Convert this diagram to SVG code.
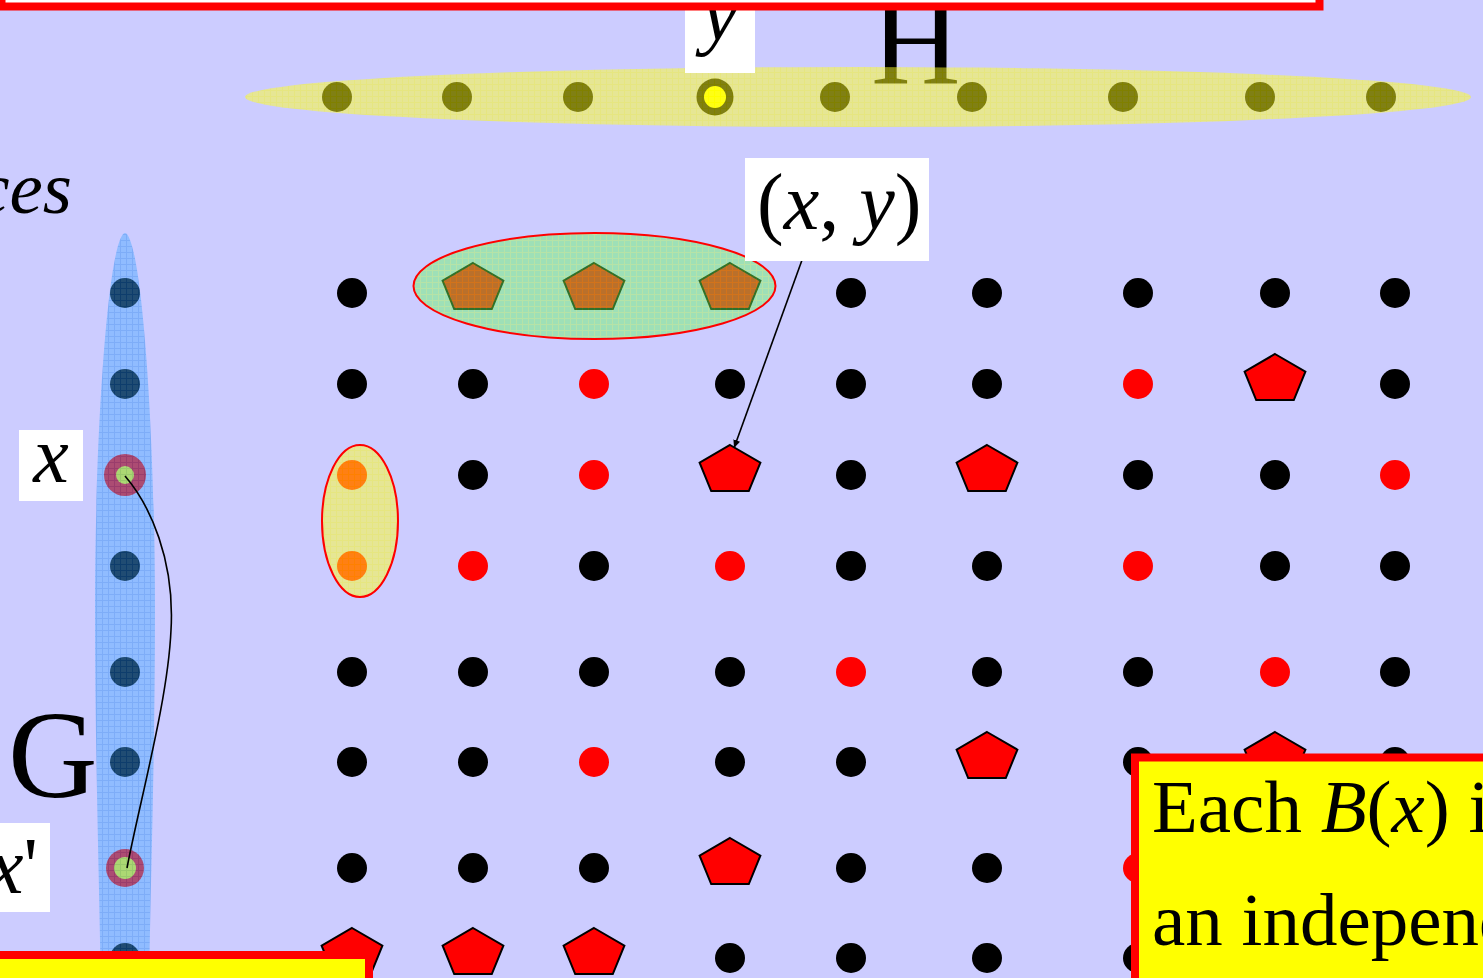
<svg xmlns="http://www.w3.org/2000/svg" xmlns:xlink="http://www.w3.org/1999/xlink" width="1483" height="978" viewBox="0 0 1483 978">
<style>
.serif{font-family:"Liberation Serif","Times New Roman",serif;fill:#000}
.it{font-style:italic}
.blk{fill:#000}
.red{fill:#FF0000}
.pent{fill:#FF0000;stroke:#000;stroke-width:2;stroke-linejoin:miter}
.lbl{fill:#FFFFFF}
.ov{opacity:0.45}
.ovy{opacity:0.5}
.rim{fill:none;stroke:#FF0000;stroke-width:2}
.conn{fill:none;stroke:#000;stroke-width:1.6}
.box{stroke:#FF0000;stroke-width:8}
</style>
<defs>
<pattern id="pY" width="6" height="6" patternUnits="userSpaceOnUse"><rect width="6" height="6" fill="#FFFF28"/><path d="M0,0.5H6M0.5,0V6" stroke="#FFFF00" stroke-width="1"/></pattern>
<pattern id="pB" width="6" height="6" patternUnits="userSpaceOnUse"><rect width="6" height="6" fill="#46A8FF"/><path d="M0,0.5H6M0.5,0V6" stroke="#1E88F0" stroke-width="1"/></pattern>
<pattern id="pG" width="6" height="6" patternUnits="userSpaceOnUse"><rect width="6" height="6" fill="#66F860"/><path d="M0,0.5H6M0.5,0V6" stroke="#9CFF3C" stroke-width="1"/></pattern>
<polygon id="pent" points="0,-25.5 30.4,-7.9 18.8,20.6 -18.8,20.6 -30.4,-7.9"/>
<marker id="arr" markerWidth="9" markerHeight="8" refX="8" refY="4" orient="auto" markerUnits="userSpaceOnUse"><path d="M0,0.5 L8,4 L0,7.5 z" fill="#000"/></marker>
</defs>
<rect id="background" x="0" y="0" width="1483" height="978" fill="#CCCCFF"/>

<g id="titles">
<text class="serif" x="871" y="83" font-size="124">H</text>
<text class="serif" x="8" y="797" font-size="124">G</text>
<text class="serif it" x="72" y="213" font-size="75" text-anchor="end">ces</text>
</g>

<g id="node-G-set">
<g id="G-vertices">
<circle class="blk" cx="125" cy="293" r="15"/>
<circle class="blk" cx="125" cy="384" r="15"/>
<circle class="red" cx="125" cy="475" r="21"/>
<circle fill="#FFFF00" cx="125" cy="475" r="9"/>
<circle class="blk" cx="125" cy="566" r="15"/>
<circle class="blk" cx="125" cy="672" r="15"/>
<circle class="blk" cx="125" cy="762" r="15"/>
<circle class="red" cx="125" cy="868" r="19"/>
<circle fill="#FFFF00" cx="125" cy="868" r="11"/>
<circle class="blk" cx="125" cy="958" r="15"/>
</g>
<path class="ov" fill="url(#pB)" d="M125,233 C141,236 155,420 155,610 C155,760 150,900 149,1000 L101,1000 C100,900 95,760 95,610 C95,420 109,236 125,233 Z"/>
</g>

<g id="node-H-set">
<g id="H-vertices">
<circle class="blk" cx="337" cy="97" r="15"/>
<circle class="blk" cx="457" cy="97" r="15"/>
<circle class="blk" cx="578" cy="97" r="15"/>
<circle class="blk" cx="715" cy="97" r="18.5"/>
<circle fill="#FFFF00" cx="715" cy="97" r="11"/>
<circle class="blk" cx="835" cy="97" r="15"/>
<circle class="blk" cx="972" cy="97" r="15"/>
<circle class="blk" cx="1123" cy="97" r="15"/>
<circle class="blk" cx="1260" cy="97" r="15"/>
<circle class="blk" cx="1381" cy="97" r="15"/>
</g>
<ellipse class="ovy" fill="url(#pY)" cx="858" cy="97" rx="613" ry="30"/>
</g>

<g id="label-y">
<rect class="lbl" x="685" y="0" width="70" height="73"/>
<text class="serif it" x="720" y="40" font-size="80" text-anchor="middle">y</text>
</g>

<g id="grid">
<circle class="blk" cx="352" cy="293" r="15"/>
<use href="#pent" class="pent" x="473" y="288.5"/>
<use href="#pent" class="pent" x="594" y="288.5"/>
<use href="#pent" class="pent" x="730" y="288.5"/>
<circle class="blk" cx="851" cy="293" r="15"/>
<circle class="blk" cx="987" cy="293" r="15"/>
<circle class="blk" cx="1138" cy="293" r="15"/>
<circle class="blk" cx="1275" cy="293" r="15"/>
<circle class="blk" cx="1395" cy="293" r="15"/>

<circle class="blk" cx="352" cy="384" r="15"/>
<circle class="blk" cx="473" cy="384" r="15"/>
<circle class="red" cx="594" cy="384" r="15"/>
<circle class="blk" cx="730" cy="384" r="15"/>
<circle class="blk" cx="851" cy="384" r="15"/>
<circle class="blk" cx="987" cy="384" r="15"/>
<circle class="red" cx="1138" cy="384" r="15"/>
<use href="#pent" class="pent" x="1275" y="379.5"/>
<circle class="blk" cx="1395" cy="384" r="15"/>

<circle class="red" cx="352" cy="475" r="15"/>
<circle class="blk" cx="473" cy="475" r="15"/>
<circle class="red" cx="594" cy="475" r="15"/>
<use href="#pent" class="pent" x="730" y="470.5"/>
<circle class="blk" cx="851" cy="475" r="15"/>
<use href="#pent" class="pent" x="987" y="470.5"/>
<circle class="blk" cx="1138" cy="475" r="15"/>
<circle class="blk" cx="1275" cy="475" r="15"/>
<circle class="red" cx="1395" cy="475" r="15"/>

<circle class="red" cx="352" cy="566" r="15"/>
<circle class="red" cx="473" cy="566" r="15"/>
<circle class="blk" cx="594" cy="566" r="15"/>
<circle class="red" cx="730" cy="566" r="15"/>
<circle class="blk" cx="851" cy="566" r="15"/>
<circle class="blk" cx="987" cy="566" r="15"/>
<circle class="red" cx="1138" cy="566" r="15"/>
<circle class="blk" cx="1275" cy="566" r="15"/>
<circle class="blk" cx="1395" cy="566" r="15"/>

<circle class="blk" cx="352" cy="672" r="15"/>
<circle class="blk" cx="473" cy="672" r="15"/>
<circle class="blk" cx="594" cy="672" r="15"/>
<circle class="blk" cx="730" cy="672" r="15"/>
<circle class="red" cx="851" cy="672" r="15"/>
<circle class="blk" cx="987" cy="672" r="15"/>
<circle class="blk" cx="1138" cy="672" r="15"/>
<circle class="red" cx="1275" cy="672" r="15"/>
<circle class="blk" cx="1395" cy="672" r="15"/>

<circle class="blk" cx="352" cy="762" r="15"/>
<circle class="blk" cx="473" cy="762" r="15"/>
<circle class="red" cx="594" cy="762" r="15"/>
<circle class="blk" cx="730" cy="762" r="15"/>
<circle class="blk" cx="851" cy="762" r="15"/>
<use href="#pent" class="pent" x="987" y="757.5"/>
<circle class="blk" cx="1138" cy="762" r="15"/>
<use href="#pent" class="pent" x="1275" y="757.5"/>
<circle class="blk" cx="1395" cy="762" r="15"/>

<circle class="blk" cx="352" cy="868" r="15"/>
<circle class="blk" cx="473" cy="868" r="15"/>
<circle class="blk" cx="594" cy="868" r="15"/>
<use href="#pent" class="pent" x="730" y="863.5"/>
<circle class="blk" cx="851" cy="868" r="15"/>
<circle class="blk" cx="987" cy="868" r="15"/>
<circle class="red" cx="1138" cy="868" r="15"/>

<use href="#pent" class="pent" x="352" y="953.5"/>
<use href="#pent" class="pent" x="473" y="953.5"/>
<use href="#pent" class="pent" x="594" y="953.5"/>
<circle class="blk" cx="730" cy="958" r="15"/>
<circle class="blk" cx="851" cy="958" r="15"/>
<circle class="blk" cx="987" cy="958" r="15"/>
<circle class="blk" cx="1138" cy="958" r="15"/>
</g>

<g id="node-green-set">
<ellipse class="ov" fill="url(#pG)" cx="594.5" cy="286" rx="181" ry="53"/>
<ellipse class="rim" cx="594.5" cy="286" rx="181" ry="53"/>
</g>
<g id="node-yellow-set">
<ellipse class="ovy" fill="url(#pY)" cx="360" cy="521" rx="38" ry="76"/>
<ellipse class="rim" cx="360" cy="521" rx="38" ry="76"/>
</g>

<g id="connectors">
<line class="conn" x1="806" y1="249" x2="734" y2="448" marker-end="url(#arr)"/>
<path class="conn" d="M125,476 C150,505 175,560 171,630 C168,700 140,800 127,868"/>
</g>

<g id="label-xy">
<rect class="lbl" x="745" y="158" width="184" height="103"/>
<text class="serif" x="757" y="229" font-size="80">(<tspan class="it">x</tspan>, <tspan class="it">y</tspan>)</text>
</g>
<g id="label-x">
<rect class="lbl" x="19" y="430" width="64" height="71"/>
<text class="serif it" x="51" y="482" font-size="80" text-anchor="middle">x</text>
</g>
<g id="label-xprime">
<rect class="lbl" x="0" y="823" width="50" height="89"/>
<text class="serif" x="38" y="893" font-size="80" text-anchor="end"><tspan class="it">x</tspan>'</text>
</g>

<g id="box-top">
<rect class="box" x="1.5" y="-300" width="1318" height="306.5" fill="#FFFFFF" stroke-width="7.5"/>
</g>
<g id="box-bottom-left">
<rect class="box" x="-100" y="955" width="469" height="200" fill="#FFFF00"/>
</g>
<g id="box-bottom-right">
<rect class="box" x="1135" y="757.5" width="500" height="300" fill="#FFFF00" stroke-width="9"/>
<text class="serif" x="1152" y="832" font-size="75">Each <tspan class="it">B</tspan>(<tspan class="it">x</tspan>) i</text>
<text class="serif" x="1152" y="945" font-size="75">an independ</text>
</g>
</svg>
